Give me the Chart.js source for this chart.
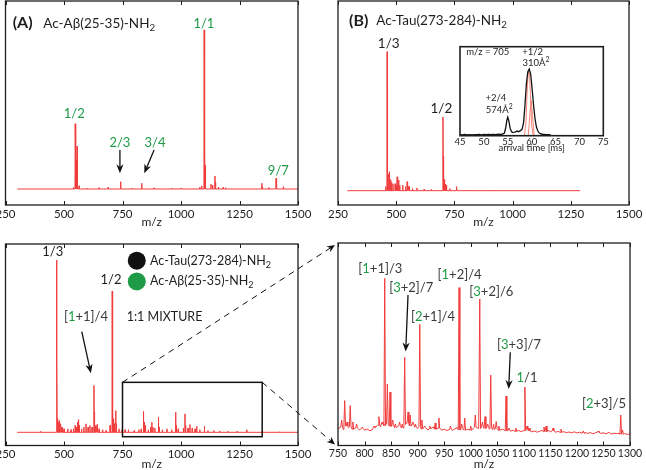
<!DOCTYPE html>
<html><head><meta charset="utf-8">
<script src="https://cdn.jsdelivr.net/npm/chart.js@4/dist/chart.umd.min.js"></script>
<style>
html,body{margin:0;padding:0;width:646px;height:470px;overflow:hidden;background:#fff;position:relative}
canvas{position:absolute}
</style></head>
<body>
<canvas id="cA"></canvas>
<canvas id="cB"></canvas>
<canvas id="cIns"></canvas>
<canvas id="cC"></canvas>
<canvas id="cD"></canvas>
<canvas id="ov" width="646" height="470" style="left:0;top:0;pointer-events:none"></canvas>
<script>
// ===================== DATA =====================
// Panel A: Ac-Aβ(25-35)-NH2 (relative intensity, 1/1 = 100)
const aPeakMz  = [540,548,550,552,556,558,565,600,650,689,742,790,832,885,960,1000,1080,1088,1099,1101,1103,1128,1135,1145,1148,1160,1180,1190,1345,1348,1375,1406,1409,1437];
const aPeakInt = [1.0,41,37,18,27,10,2,0.6,0.8,1.2,4.6,0.6,3.6,0.7,0.5,0.6,1.2,2,100,55,15,3,2.5,8.2,4,1.2,1,0.8,3.6,1.5,1,6.7,3,1.5];
// Panel B: Ac-Tau(273-284)-NH2 (1/3 = 100)
const bPeakMz  = [455,461,463,466,469,471,476,480,486,495,500,504,507,511,515,528,540,547,550,555,570,589,620,650,701,703,706,710,714,717,730,758,761,800,900];
const bPeakInt = [3,100,45,12,10,13.7,8,6,5,5,3.5,10,6,7.7,4,4,3,6.5,4.5,3,1.5,2,1,0.7,53,25,8,4.8,3,4,1.5,2.9,1.5,0.5,0.4];
// Inset: arrival time distribution m/z = 705
const insT = [45,45.5,46,46.5,47,47.5,48,48.5,49,49.5,50,50.5,51,51.5,52,52.5,53,53.5,54,54.3,54.6,54.8,55,55.2,55.5,55.8,56,56.5,57,57.3,57.7,58,58.3,58.6,58.9,59.2,59.5,59.8,60.1,60.4,60.7,61,61.3,61.6,62,62.5,63,63.5,64];
const insI = [0.5,0.2,0.8,0.3,0.6,0.2,0.7,0.4,0.9,0.3,0.8,0.5,1.0,0.4,0.9,0.6,1.2,0.8,1.5,3,12,22,27,22,10,5,4,4.5,6,5,7,9,18,45,78,96,100,92,70,45,25,12,6,3,1.5,1,0.5,0.4,0.2];
const fitT = [58.5,58.8,59.0,59.2,59.4,59.6,59.8,60.0,60.3];
const fitI = [0,18,55,88,97,85,50,15,0];
const fit2T = [59.3,59.6,59.9,60.2,60.5];
const fit2I = [0,28,52,28,0];
// Panel C: 1:1 mixture (1/3 = 100)
const cPeakMz  = [400,468,470,473,477,480,484,487,492,500,516,530,540,548,553,558,561,565,575,585,594,603,611,620,628,630,632,636,642,650,665,680,697,706,708,711,714,721,724,735,748,761,775,800,820,830,839,842,848,860,870,875,880,888,903,906,920,940,960,977,980,988,1010,1017,1020,1030,1038,1048,1060,1067,1080,1100,1115,1140,1165,1200,1240,1281,1350,1420];
const cPeakInt = [0.5,100,40,8,6,6.8,5,4.5,3,2,2,1.5,2,4,3,6,7.4,4,2,3,4.9,3,4,3,27.2,12,5,4,4.5,2,1.5,1,4,82,35,8,5,12.6,5,2,1.5,1.5,1.5,1,1.5,2,12.2,6,4,1.5,3,5.8,3,2.5,8.7,3,1.5,2,1.5,11.6,4,2,2.5,10.7,4,2.5,4.5,2.5,2,3.5,1.5,3.5,1,1,0.8,0.6,0.5,1.5,0.3,0.3];
// Panel D: zoom 750-1300 of the mixture
const dNoiseStart = 750, dNoiseStep = 5;
const dNoise = [5.6,6.4,5.2,7.0,6.1,6.8,5.4,6.0,5.1,5.8,
 4.9,5.5,4.6,5.2,6.3,7.4,6.6,8.0,7.2,8.5,
 6.9,7.6,6.2,7.1,6.0,7.8,8.4,7.0,7.9,6.4,
 5.8,6.9,5.5,6.2,5.0,5.7,6.5,5.4,6.0,4.9,
 5.4,4.7,5.3,4.8,5.6,6.2,5.1,5.8,4.9,5.5,
 4.8,5.9,6.4,5.7,6.6,5.8,6.3,5.5,6.1,5.2,
 5.8,4.9,5.4,4.6,5.0,4.4,4.9,4.3,4.8,4.2,
 4.7,5.3,4.6,4.1,4.5,3.9,4.4,4.8,4.2,5.0,
 4.1,4.6,3.9,4.3,3.8,4.2,3.7,4.0,3.6,4.1,
 3.5,3.9,3.4,3.8,3.3,3.7,3.2,3.6,3.9,3.3,
 3.6,3.1,3.5,3.0,3.4,3.2,3.3,2.9,3.2,2.8,3.0];
const dPeakMz  = [757,762.6,767,773,778,785,796,818,827,833,838,843,848,853,858,866,871,875.6,882,886,891,896,904,908,913,923,933,940,962,978,983,988.7,1000,1008.6,1017,1022,1027,1032,1037.7,1043,1048,1053,1066.5,1072,1085,1102,1106,1110,1138,1142,1155,1170,1212,1240,1260,1282.6,1286];
const dPeakInt = [10,19.7,9,17.2,9,8,6.5,7,11.7,9,80.8,28,24,10,8,9,8,41.3,14,12.5,9,8,57.8,10,7,7,8.5,11,7,76.2,8,11,7,12.5,70.5,9,11.7,8,32.5,8,9.2,7,22,6,6,26.5,7,6,6.5,7,6,5.5,4.5,4.5,4,12.5,5];

// ===================== STYLE =====================
const RED = '#f03c3c', GREEN = '#1f9a46', DARK = '#1e1e1e', GRAY = '#3a3a3a';
const FONT = "Lato, 'Open Sans', sans-serif";

// ===================== HELPERS =====================
function stick(mzs, ints, base, w, xmin, xmax) {
  const pts = [{x:xmin, y:base}];
  mzs.forEach((m,i) => { pts.push({x:m-w,y:base},{x:m,y:ints[i]},{x:m+w,y:base}); });
  pts.push({x:xmax, y:base});
  return pts;
}
function noisyStick(noise, start, step, mzs, ints, w) {
  const pts = [];
  noise.forEach((v,i) => {
    const m = start + step*i;
    if (!mzs.some(p => Math.abs(p-m) <= w)) pts.push({x:m, y:v});
  });
  mzs.forEach((m,i) => {
    const foot = noise[Math.min(noise.length-1, Math.max(0, Math.round((m-start)/step)))];
    pts.push({x:m-w,y:foot},{x:m,y:ints[i]},{x:m+w,y:foot});
  });
  pts.sort((a,b)=>a.x-b.x);
  return pts;
}
function pairs(xs, ys) { return xs.map((x,i)=>({x, y:ys[i]})); }

function drawParts(ctx, parts, x, y, size, align, weight) {
  const f = s => `${weight||'normal'} ${s}px ${FONT}`;
  const sizes = parts.map(p => p[2] ? size*0.72 : size);
  const widths = parts.map((p,i) => { ctx.font = f(sizes[i]); return ctx.measureText(p[0]).width; });
  const total = widths.reduce((s,v)=>s+v,0);
  let cx = align === 'left' ? x : x - total/2;
  ctx.textAlign = 'left'; ctx.textBaseline = 'middle';
  parts.forEach((p,i) => {
    ctx.font = f(sizes[i]); ctx.fillStyle = p[1];
    const dy = p[2]==='sub' ? size*0.32 : (p[2]==='sup' ? -size*0.38 : 0);
    ctx.fillText(p[0], cx, y+dy); cx += widths[i];
  });
}
function arrowHead(ctx, x1,y1,x2,y2, hl, hw) {
  const a = Math.atan2(y2-y1, x2-x1);
  const bx = x2 - hl*Math.cos(a), by = y2 - hl*Math.sin(a);
  const nx = x2 - hl*0.7*Math.cos(a), ny = y2 - hl*0.7*Math.sin(a);
  ctx.beginPath(); ctx.moveTo(x2,y2);
  ctx.lineTo(bx - hw*Math.sin(a), by + hw*Math.cos(a));
  ctx.lineTo(nx, ny);
  ctx.lineTo(bx + hw*Math.sin(a), by - hw*Math.cos(a));
  ctx.closePath(); ctx.fill();
  return {x:nx, y:ny};
}

function deco(cfg) {
  return {
    id: 'deco',
    beforeDatasetsDraw(chart) {
      if (!cfg.fill) return;
      const a = chart.chartArea, c = chart.ctx;
      c.save(); c.fillStyle = cfg.fill; c.fillRect(a.left, a.top, a.right-a.left, a.bottom-a.top); c.restore();
    },
    afterDatasetsDraw(chart) {
      const {ctx, chartArea:a} = chart, X = chart.scales.x, Y = chart.scales.y;
      ctx.save();
      ctx.strokeStyle = DARK; ctx.fillStyle = DARK; ctx.lineWidth = 1;
      if (cfg.tickLen) {
        X.ticks.forEach(t => {
          const px = Math.round(X.getPixelForValue(t.value)) + 0.5;
          ctx.beginPath();
          ctx.moveTo(px, a.bottom); ctx.lineTo(px, a.bottom - cfg.tickLen);
          ctx.moveTo(px, a.top); ctx.lineTo(px, a.top + cfg.tickLen);
          ctx.stroke();
        });
      }
      ctx.lineWidth = cfg.frameW || 1.3;
      ctx.strokeRect(a.left, a.top, a.right-a.left, a.bottom-a.top);
      (cfg.rects||[]).forEach(r => {
        ctx.lineWidth = 1.5; ctx.strokeStyle = '#111';
        const x1 = X.getPixelForValue(r[0]), x2 = X.getPixelForValue(r[2]);
        const y1 = Y.getPixelForValue(r[1]), y2 = Y.getPixelForValue(r[3]);
        ctx.strokeRect(x1, y1, x2-x1, y2-y1);
      });
      (cfg.circles||[]).forEach(c => {
        ctx.fillStyle = c.color; ctx.beginPath();
        ctx.arc(X.getPixelForValue(c.x), Y.getPixelForValue(c.y), c.r, 0, Math.PI*2); ctx.fill();
      });
      (cfg.arrows||[]).forEach(ar => {
        const x1 = X.getPixelForValue(ar[0]), y1 = Y.getPixelForValue(ar[1]);
        const x2 = X.getPixelForValue(ar[2]), y2 = Y.getPixelForValue(ar[3]);
        ctx.fillStyle = '#111'; ctx.strokeStyle = '#111'; ctx.lineWidth = 1.3;
        const n = arrowHead(ctx, x1,y1,x2,y2, 9, 3.6);
        ctx.beginPath(); ctx.moveTo(x1,y1); ctx.lineTo(n.x,n.y); ctx.stroke();
      });
      (cfg.labels||[]).forEach(l => {
        drawParts(ctx, l.parts, X.getPixelForValue(l.x), Y.getPixelForValue(l.y), l.size || cfg.labelSize, l.align || 'center', l.weight);
      });
      (cfg.titles||[]).forEach(t => {
        drawParts(ctx, t.parts, a.left + t.dx, a.top + t.dy, t.size, 'left', t.weight);
      });
      ctx.restore();
    }
  };
}

function makePanel(id, box, area, axisH, xs, ys, datasets, cfg) {
  const cv = document.getElementById(id);
  cv.width = box.w; cv.height = box.h;
  cv.style.left = box.l + 'px'; cv.style.top = box.t + 'px';
  cv.style.width = box.w + 'px'; cv.style.height = box.h + 'px';
  return new Chart(cv, {
    type: 'line',
    data: { datasets },
    options: {
      responsive: false, animation: false, devicePixelRatio: 1,
      layout: { padding: { left: area.l - box.l, top: area.t - box.t, right: box.l + box.w - area.r, bottom: box.t + box.h - area.b - axisH } },
      plugins: { legend: { display: false }, tooltip: { enabled: false } },
      elements: { point: { radius: 0 }, line: { tension: 0, borderWidth: 1 } },
      scales: {
        x: {
          type: 'linear', min: xs.min, max: xs.max,
          afterFit(s) { s.height = axisH; },
          grid: { display: false, drawTicks: false }, border: { display: false },
          ticks: { stepSize: xs.step, autoSkip: false, maxRotation: 0, padding: xs.pad, color: DARK,
                   font: { family: FONT, size: xs.fs }, callback: v => String(v) },
          title: { display: true, text: xs.title, padding: 0, color: DARK, font: { family: FONT, size: xs.ts } }
        },
        y: { display: false, min: ys.min, max: ys.max }
      }
    },
    plugins: [deco(cfg)]
  });
}

// ===================== PANELS =====================
const lineDs = (data, color, w) => ({ data, borderColor: color, borderWidth: w || 1, pointRadius: 0, fill: false, parsing: false });

const chartA = makePanel('cA', {l:-20,t:-5,w:345,h:240}, {l:5.5,t:1,r:298,b:205}, 24,
  {min:250,max:1500,step:250,pad:2,fs:11.5,ts:12,title:'m/z'}, {min:-10.06,max:118.2},
  [lineDs(stick(aPeakMz, aPeakInt, 0, 1, 300, 1500), RED)],
  { tickLen: 4, labelSize: 13,
    labels: [
      {x:1098,y:103.8,parts:[['1/1',GREEN]]},
      {x:544,y:47.2,parts:[['1/2',GREEN]]},
      {x:739,y:29.1,parts:[['2/3',GREEN]]},
      {x:889,y:29.1,parts:[['3/4',GREEN]]},
      {x:1416,y:11.3,parts:[['9/7',GREEN]]}
    ],
    arrows: [[739,24.5,739,9.9],[885,24.5,843,9.9]],
    titles: [
      {dx:7.2, dy:22.3, size:16, weight:'bold', parts:[['(A)',DARK]]},
      {dx:37.8, dy:22.3, size:13.5, parts:[['Ac-Aβ(25-35)-NH',DARK],['2',DARK,'sub']]}
    ]
  });

const chartB = makePanel('cB', {l:318,t:-5,w:332,h:240}, {l:338,t:1,r:629,b:205}, 24,
  {min:250,max:1500,step:250,pad:2,fs:11.5,ts:12,title:'m/z'}, {min:-10.3,max:136.5},
  [lineDs(stick(bPeakMz, bPeakInt, 0, 1, 290, 1290), RED)],
  { tickLen: 4, labelSize: 13.5,
    labels: [
      {x:468,y:106,parts:[['1/3',DARK]]},
      {x:694,y:59.3,parts:[['1/2',DARK]]}
    ],
    titles: [
      {dx:11, dy:19.7, size:16, weight:'bold', parts:[['(B)',DARK]]},
      {dx:38.3, dy:19.7, size:13.5, parts:[['Ac-Tau(273-284)-NH',DARK],['2',DARK,'sub']]}
    ]
  });

const chartIns = makePanel('cIns', {l:440,t:38,w:185,h:125}, {l:460,t:46.7,r:603.3,b:135.7}, 18,
  {min:45,max:75,step:5,pad:1,fs:9.5,ts:9.5,title:'arrival time [ms]'}, {min:-1.06,max:133.8},
  [lineDs(pairs(insT, insI), '#111', 1.3),
   lineDs(pairs(fitT, fitI), '#f07a6a', 0.9),
   lineDs(pairs(fit2T, fit2I), '#f07a6a', 0.9)],
  { fill: '#fff', tickLen: 0, frameW: 1.6, labelSize: 9.5,
    labels: [
      {x:46.3,y:126.2,align:'left',parts:[['m/z = 705',DARK]]},
      {x:60.2,y:126.2,parts:[['+1/2',DARK]]},
      {x:60.9,y:108.6,parts:[['310Å',DARK],['2',DARK,'sup']]},
      {x:52.5,y:55.6,parts:[['+2/4',DARK]]},
      {x:53.2,y:37.9,parts:[['574Å',DARK],['2',DARK,'sup']]}
    ]
  });

const cRect = [750, 29, 1347, -2.55];
const chartC = makePanel('cC', {l:-20,t:228,w:345,h:247}, {l:5.5,t:244,r:298,b:445.5}, 26,
  {min:250,max:1500,step:250,pad:2,fs:11.5,ts:12,title:'m/z'}, {min:-7.66,max:109.3},
  [lineDs(stick(cPeakMz, cPeakInt, 0, 1, 300, 1500), RED)],
  { tickLen: 4, labelSize: 13,
    rects: [cRect],
    circles: [{x:811,y:99.6,r:9,color:'#111'},{x:811,y:87.6,r:9,color:GREEN}],
    arrows: [[576,58.5,615,34.3]],
    labels: [
      {x:452,y:105,parts:[['1/3',DARK]]},
      {x:701,y:88.5,parts:[['1/2',DARK]]},
      {x:594,y:67.2,parts:[['[',GRAY],['1',GREEN],['+1]/4',GRAY]]},
      {x:768,y:67.2,align:'left',size:12.5,parts:[['1:1 MIXTURE',DARK]]},
      {x:867.5,y:99.6,align:'left',size:12.5,parts:[['Ac-Tau(273-284)-NH',DARK],['2',DARK,'sub']]},
      {x:867.5,y:87.6,align:'left',size:12.5,parts:[['Ac-Aβ(25-35)-NH',DARK],['2',DARK,'sub']]}
    ]
  });

const chartD = makePanel('cD', {l:318,t:228,w:332,h:247}, {l:338,t:243,r:630,b:445.5}, 26,
  {min:750,max:1300,step:50,pad:2,fs:10.5,ts:12,title:'m/z'}, {min:-2.75,max:98.5},
  [lineDs(noisyStick(dNoise, dNoiseStart, dNoiseStep, dPeakMz, dPeakInt, 1.5), RED)],
  { tickLen: 4, labelSize: 13,
    arrows: [[881.9,72.5,877.5,44.2],[1074.5,43.9,1071.5,25.5]],
    labels: [
      {x:829.7,y:85.5,parts:[['[',GRAY],['1',GREEN],['+1]/3',GRAY]]},
      {x:888,y:76.2,parts:[['[',GRAY],['3',GREEN],['+2]/7',GRAY]]},
      {x:929,y:61.7,parts:[['[',GRAY],['2',GREEN],['+1]/4',GRAY]]},
      {x:979,y:82.5,parts:[['[',GRAY],['1',GREEN],['+2]/4',GRAY]]},
      {x:1038.8,y:74.2,parts:[['[',GRAY],['3',GREEN],['+2]/6',GRAY]]},
      {x:1091,y:47.5,parts:[['[',GRAY],['3',GREEN],['+3]/7',GRAY]]},
      {x:1106,y:31.2,parts:[['1',GREEN],['/1',GRAY]]},
      {x:1251,y:18.2,parts:[['[',GRAY],['2',GREEN],['+3]/5',GRAY]]}
    ]
  });

// ===================== CONNECTORS (zoom box -> panel D) =====================
(function () {
  const ov = document.getElementById('ov'), c = ov.getContext('2d');
  const cvC = document.getElementById('cC'), cvD = document.getElementById('cD');
  const oCx = parseFloat(cvC.style.left), oCy = parseFloat(cvC.style.top);
  const oDx = parseFloat(cvD.style.left), oDy = parseFloat(cvD.style.top);
  const X = chartC.scales.x, Y = chartC.scales.y, aD = chartD.chartArea;
  const x1 = oCx + X.getPixelForValue(cRect[0]), x2 = oCx + X.getPixelForValue(cRect[2]);
  const yT = oCy + Y.getPixelForValue(cRect[1]);
  const tl = {x: oDx + aD.left - 3, y: oDy + aD.top + 2};
  const bl = {x: oDx + aD.left - 3, y: oDy + aD.bottom - 1};
  c.strokeStyle = '#111'; c.fillStyle = '#111'; c.lineWidth = 1;
  [[x1, yT, tl], [x2, yT, bl]].forEach(([sx, sy, e]) => {
    const n = arrowHead(c, sx, sy, e.x, e.y, 8, 3.5);
    c.setLineDash([6, 5]);
    c.beginPath(); c.moveTo(sx, sy); c.lineTo(n.x, n.y); c.stroke();
    c.setLineDash([]);
  });
})();
</script>
</body></html>
